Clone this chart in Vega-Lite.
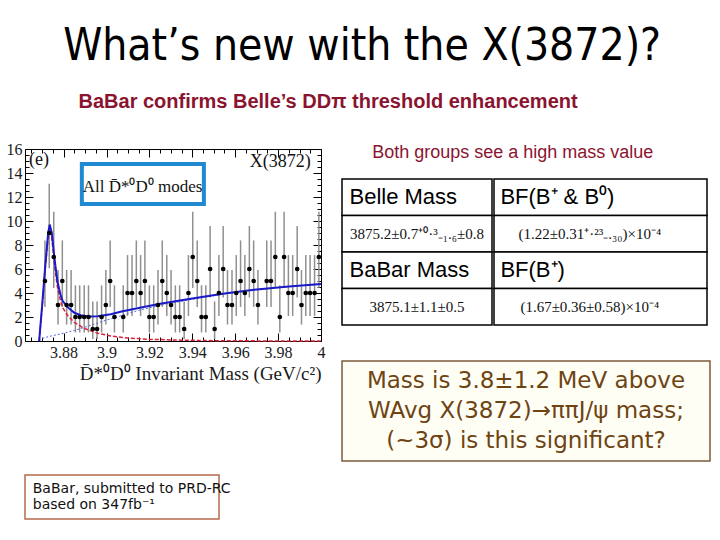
{
"$schema": "https://vega.github.io/schema/vega-lite/v6.json",
"background": "white",
"padding": {"left": 5, "top": 24, "right": 0, "bottom": 0},
"config": {"view": {"stroke": null}, "axis": {"grid": false}},
"title": {"text": "What’s new with the X(3872)?", "font": "DejaVu Sans Condensed", "fontSize": 44, "fontWeight": "normal", "color": "#000", "anchor": "middle", "dx": 4, "offset": 23},
"datasets": {
"bins": [
{"mass":3.8713,"n":5},{"mass":3.8733,"n":9},{"mass":3.8754,"n":7},{"mass":3.8774,"n":3},{"mass":3.8794,"n":5},
{"mass":3.8814,"n":3},{"mass":3.8835,"n":3},{"mass":3.8855,"n":2},{"mass":3.8875,"n":2},{"mass":3.8896,"n":2},
{"mass":3.8916,"n":2},{"mass":3.8936,"n":1},{"mass":3.8956,"n":1},{"mass":3.8977,"n":2},{"mass":3.8997,"n":3},
{"mass":3.9017,"n":5},{"mass":3.9037,"n":2},{"mass":3.9078,"n":2},{"mass":3.9098,"n":4},{"mass":3.9119,"n":4},
{"mass":3.9139,"n":5},{"mass":3.9159,"n":4},{"mass":3.9179,"n":5},{"mass":3.9200,"n":2},{"mass":3.9220,"n":2},
{"mass":3.9240,"n":3},{"mass":3.9260,"n":5},{"mass":3.9281,"n":4},{"mass":3.9301,"n":3},{"mass":3.9321,"n":2},
{"mass":3.9341,"n":2},{"mass":3.9362,"n":1},{"mass":3.9382,"n":4},{"mass":3.9402,"n":7},{"mass":3.9423,"n":5},
{"mass":3.9443,"n":2},{"mass":3.9463,"n":2},{"mass":3.9483,"n":6},{"mass":3.9504,"n":1},{"mass":3.9524,"n":4},
{"mass":3.9544,"n":6},{"mass":3.9564,"n":3},{"mass":3.9585,"n":3},{"mass":3.9605,"n":4},{"mass":3.9625,"n":5},
{"mass":3.9645,"n":4},{"mass":3.9666,"n":6},{"mass":3.9686,"n":5},{"mass":3.9706,"n":3},{"mass":3.9747,"n":5},
{"mass":3.9767,"n":5},{"mass":3.9787,"n":7},{"mass":3.9808,"n":2},{"mass":3.9828,"n":7},{"mass":3.9848,"n":4},
{"mass":3.9868,"n":4},{"mass":3.9889,"n":6},{"mass":3.9909,"n":3},{"mass":3.9929,"n":4},{"mass":3.9949,"n":4},
{"mass":3.9970,"n":4},{"mass":3.9990,"n":7}
],
"poisson": [
{"n":1,"lo":0.17,"hi":3.30},{"n":2,"lo":0.71,"hi":4.64},{"n":3,"lo":1.37,"hi":5.92},{"n":4,"lo":2.09,"hi":7.16},
{"n":5,"lo":2.84,"hi":8.38},{"n":6,"lo":3.62,"hi":9.58},{"n":7,"lo":4.42,"hi":10.77},{"n":9,"lo":6.06,"hi":13.11}
],
"curves": [
{"c":"total","m":3.8686,"y":0},{"c":"total","m":3.8700,"y":3.0},{"c":"total","m":3.8715,"y":6.4},{"c":"total","m":3.8728,"y":9.0},
{"c":"total","m":3.8735,"y":9.7},{"c":"total","m":3.8745,"y":9.0},{"c":"total","m":3.8756,"y":7.1},{"c":"total","m":3.8765,"y":5.8},
{"c":"total","m":3.8772,"y":4.9},{"c":"total","m":3.8785,"y":3.9},{"c":"total","m":3.8795,"y":3.35},{"c":"total","m":3.882,"y":2.8},
{"c":"total","m":3.885,"y":2.35},{"c":"total","m":3.888,"y":2.15},{"c":"total","m":3.8915,"y":2.05},{"c":"total","m":3.896,"y":2.07},
{"c":"total","m":3.902,"y":2.23},{"c":"total","m":3.907,"y":2.45},{"c":"total","m":3.915,"y":2.75},{"c":"total","m":3.925,"y":3.1},
{"c":"total","m":3.94,"y":3.55},{"c":"total","m":3.955,"y":3.95},{"c":"total","m":3.97,"y":4.3},{"c":"total","m":3.985,"y":4.55},
{"c":"total","m":4.0,"y":4.75},
{"c":"signal","m":3.8686,"y":0},{"c":"signal","m":3.8700,"y":2.8},{"c":"signal","m":3.8715,"y":6.1},{"c":"signal","m":3.8728,"y":8.7},
{"c":"signal","m":3.8735,"y":9.3},{"c":"signal","m":3.8745,"y":8.6},{"c":"signal","m":3.8756,"y":6.6},{"c":"signal","m":3.8765,"y":5.3},
{"c":"signal","m":3.8772,"y":4.4},{"c":"signal","m":3.8785,"y":3.4},{"c":"signal","m":3.8795,"y":2.8},{"c":"signal","m":3.882,"y":2.1},
{"c":"signal","m":3.885,"y":1.55},{"c":"signal","m":3.8896,"y":1.05},{"c":"signal","m":3.8959,"y":0.65},{"c":"signal","m":3.902,"y":0.42},
{"c":"signal","m":3.91,"y":0.25},{"c":"signal","m":3.92,"y":0.14},{"c":"signal","m":3.935,"y":0.07},{"c":"signal","m":3.95,"y":0.03},
{"c":"signal","m":3.97,"y":0.01},{"c":"signal","m":4.0,"y":0.0},
{"c":"background","m":3.8686,"y":0},{"c":"background","m":3.870,"y":0.2},{"c":"background","m":3.872,"y":0.32},{"c":"background","m":3.875,"y":0.45},
{"c":"background","m":3.88,"y":0.65},{"c":"background","m":3.885,"y":0.88},{"c":"background","m":3.89,"y":1.15},{"c":"background","m":3.895,"y":1.45},
{"c":"background","m":3.9,"y":1.75},{"c":"background","m":3.905,"y":2.0},{"c":"background","m":3.91,"y":2.3},{"c":"background","m":3.915,"y":2.55},
{"c":"background","m":3.925,"y":2.98},{"c":"background","m":3.94,"y":3.48},{"c":"background","m":3.955,"y":3.92},{"c":"background","m":3.97,"y":4.28},
{"c":"background","m":3.985,"y":4.54},{"c":"background","m":4.0,"y":4.74}
],
"box": [{"x0":3.8885,"x1":3.9454,"y0":11.41,"y1":14.75,"xm":3.9168,"ym":12.85,"label":"All D̄*⁰D⁰ modes"}],
"plotText": [{"m":3.8685,"y":15.1,"label":"(e)"},{"m":3.981,"y":14.95,"label":"X(3872)"}],
"header": [{"text":"Both groups see a high mass value"}],
"table": [
{"row":1,"col":1,"kind":"head","text":"Belle Mass"},
{"row":1,"col":2,"kind":"head","text":"BF(B⁺ & B⁰)"},
{"row":2,"col":1,"kind":"val","text":"3875.2±0.7⁺⁰·³₋₁.₆±0.8"},
{"row":2,"col":2,"kind":"val","text":"(1.22±0.31⁺·²³₋.₃₀)×10⁻⁴"},
{"row":3,"col":1,"kind":"head","text":"BaBar Mass"},
{"row":3,"col":2,"kind":"head","text":"BF(B⁺)"},
{"row":4,"col":1,"kind":"val","text":"3875.1±1.1±0.5"},
{"row":4,"col":2,"kind":"val","text":"(1.67±0.36±0.58)×10⁻⁴"}
],
"comment": [
{"line":1,"text":"Mass is 3.8±1.2 MeV above"},
{"line":2,"text":"WAvg X(3872)→ππJ/ψ mass;"},
{"line":3,"text":"(~3σ) is this significant?"}
],
"note": [
{"line":1,"text":"BaBar, submitted to PRD-RC"},
{"line":2,"text":"based on 347fb⁻¹"}
]
},
"vconcat": [{
"title": {"text": "BaBar confirms Belle’s DDπ threshold enhancement", "font": "Liberation Sans", "fontSize": 20, "fontWeight": "bold", "color": "#8a1430", "anchor": "start", "dx": 73, "offset": 29},
"spacing": 15,
"hconcat": [
{"spacing": 134, "bounds": "flush", "vconcat": [
{
"width": 296, "height": 192,
"view": {"stroke": "#000", "strokeWidth": 1},
"resolve": {"axis": {"x": "independent", "y": "independent"}},
"layer": [
{
"data": {"name": "bins"},
"transform": [{"lookup": "n", "from": {"data": {"name": "poisson"}, "key": "n", "fields": ["lo", "hi"]}}],
"mark": {"type": "rule", "color": "#909090", "strokeWidth": 1.5},
"encoding": {
"x": {"field": "mass", "type": "quantitative", "scale": {"domain": [3.862, 4.0], "nice": false, "zero": false},
 "axis": {"orient": "bottom", "values": [3.88, 3.9, 3.92, 3.94, 3.96, 3.98, 4], "format": "~g", "tickSize": -8, "tickColor": "#000", "domain": false, "labelFont": "Liberation Serif", "labelFontSize": 16, "labelColor": "#1a1a1a", "labelPadding": 11, "labelFlush": false, "title": "D̄*⁰D⁰ Invariant Mass (GeV/c²)", "titleFont": "Liberation Serif", "titleFontSize": 19, "titleFontWeight": "normal", "titleColor": "#1a1a1a", "titleAnchor": "end", "titlePadding": 4}},
"y": {"field": "lo", "type": "quantitative", "scale": {"domain": [0, 16], "nice": false},
 "axis": {"orient": "left", "values": [0, 2, 4, 6, 8, 10, 12, 14, 16], "tickSize": -8, "tickColor": "#000", "domain": false, "labelFont": "Liberation Serif", "labelFontSize": 16, "labelColor": "#1a1a1a", "labelPadding": 11, "title": null}},
"y2": {"field": "hi"}
}
},
{
"data": {"name": "curves"},
"transform": [{"filter": "datum.c == 'background'"}],
"mark": {"type": "line", "color": "#5566e0", "strokeWidth": 1, "strokeDash": [2, 2]},
"encoding": {"x": {"field": "m", "type": "quantitative", "axis": null}, "y": {"field": "y", "type": "quantitative", "axis": null}}
},
{
"data": {"name": "curves"},
"transform": [{"filter": "datum.c == 'signal'"}],
"mark": {"type": "line", "color": "#e0203a", "strokeWidth": 1.5, "strokeDash": [4, 2]},
"encoding": {"x": {"field": "m", "type": "quantitative", "axis": null}, "y": {"field": "y", "type": "quantitative", "axis": null}}
},
{
"data": {"name": "curves"},
"transform": [{"filter": "datum.c == 'total'"}],
"mark": {"type": "line", "color": "#1a1ac8", "strokeWidth": 2},
"encoding": {
"x": {"field": "m", "type": "quantitative", "axis": {"orient": "top", "values": [3.88, 3.9, 3.92, 3.94, 3.96, 3.98, 4], "tickSize": -8, "tickColor": "#000", "domain": false, "labels": false, "title": null}},
"y": {"field": "y", "type": "quantitative", "axis": {"orient": "right", "values": [0, 2, 4, 6, 8, 10, 12, 14, 16], "tickSize": -8, "tickColor": "#000", "domain": false, "labels": false, "title": null}}
}
},
{
"data": {"name": "bins"},
"mark": {"type": "circle", "color": "#000", "opacity": 1, "size": 22},
"encoding": {
"x": {"field": "mass", "type": "quantitative", "axis": {"orient": "bottom", "values": [3.865,3.87,3.875,3.88,3.885,3.89,3.895,3.9,3.905,3.91,3.915,3.92,3.925,3.93,3.935,3.94,3.945,3.95,3.955,3.96,3.965,3.97,3.975,3.98,3.985,3.99,3.995,4], "tickSize": -4, "tickColor": "#000", "domain": false, "labels": false, "title": null}},
"y": {"field": "n", "type": "quantitative", "axis": {"orient": "left", "values": [0.5,1,1.5,2,2.5,3,3.5,4,4.5,5,5.5,6,6.5,7,7.5,8,8.5,9,9.5,10,10.5,11,11.5,12,12.5,13,13.5,14,14.5,15,15.5], "tickSize": -4, "tickColor": "#000", "domain": false, "labels": false, "title": null}}
}
},
{
"data": {"name": "box"},
"mark": {"type": "rect", "fill": "#fff", "stroke": "#1f8ad1", "strokeWidth": 4},
"encoding": {
"x": {"field": "x0", "type": "quantitative", "axis": {"orient": "top", "values": [3.865,3.87,3.875,3.885,3.89,3.895,3.905,3.91,3.915,3.925,3.93,3.935,3.945,3.95,3.955,3.965,3.97,3.975,3.985,3.99,3.995], "tickSize": -4, "tickColor": "#000", "domain": false, "labels": false, "title": null}},
"x2": {"field": "x1"},
"y": {"field": "y0", "type": "quantitative", "axis": {"orient": "right", "values": [0.5,1,1.5,2.5,3,3.5,4.5,5,5.5,6.5,7,7.5,8.5,9,9.5,10.5,11,11.5,12.5,13,13.5,14.5,15,15.5], "tickSize": -4, "tickColor": "#000", "domain": false, "labels": false, "title": null}},
"y2": {"field": "y1"}
}
},
{
"data": {"name": "box"},
"mark": {"type": "text", "font": "Liberation Serif", "fontSize": 17, "color": "#111", "baseline": "middle"},
"encoding": {"x": {"field": "xm", "type": "quantitative", "axis": null}, "y": {"field": "ym", "type": "quantitative", "axis": null}, "text": {"field": "label"}}
},
{
"data": {"name": "plotText"},
"mark": {"type": "text", "font": "Liberation Serif", "fontSize": 18, "color": "#111", "baseline": "middle"},
"encoding": {"x": {"field": "m", "type": "quantitative", "axis": null}, "y": {"field": "y", "type": "quantitative", "axis": null}, "text": {"field": "label"}}
}
]
},
{
"width": 194, "height": 44,
"view": {"stroke": "#b76b4c", "strokeWidth": 1.5, "fill": "#fff"},
"data": {"name": "note"},
"mark": {"type": "text", "align": "left", "baseline": "middle", "font": "DejaVu Sans", "fontSize": 14, "color": "#111"},
"encoding": {
"x": {"datum": 0.04, "type": "quantitative", "scale": {"domain": [0, 1]}, "axis": null},
"y": {"field": "line", "type": "ordinal", "axis": null, "scale": {"type": "point", "padding": 0.875}},
"text": {"field": "text"}
}
}
]},
{"spacing": 34, "vconcat": [
{"spacing": 16, "vconcat": [
{
"width": 363, "height": 8,
"data": {"name": "header"},
"mark": {"type": "text", "align": "left", "baseline": "middle", "font": "Liberation Sans", "fontSize": 18, "color": "#8a1430"},
"encoding": {
"x": {"datum": 0.083, "type": "quantitative", "scale": {"domain": [0, 1]}, "axis": null},
"y": {"datum": 0.5, "type": "quantitative", "scale": {"domain": [0, 1]}, "axis": null},
"text": {"field": "text"}
}
},
{
"spacing": 0,
"hconcat": [
{
"width": 150, "height": 146,
"data": {"name": "table"},
"transform": [{"filter": "datum.col == 1"}],
"encoding": {"y": {"field": "row", "type": "ordinal", "axis": null, "scale": {"paddingInner": 0, "paddingOuter": 0}}},
"layer": [
{"mark": {"type": "rect", "fill": "#fff", "stroke": "#000", "strokeWidth": 1.5},
 "encoding": {"x": {"datum": 0, "type": "quantitative", "scale": {"domain": [0, 1]}, "axis": null}, "x2": {"datum": 1}}},
{"transform": [{"filter": "datum.kind == 'head'"}],
 "mark": {"type": "text", "align": "left", "baseline": "middle", "font": "Liberation Sans", "fontSize": 22, "color": "#000"},
 "encoding": {"x": {"datum": 0.05, "type": "quantitative", "axis": null}, "text": {"field": "text"}}},
{"transform": [{"filter": "datum.kind == 'val'"}],
 "mark": {"type": "text", "align": "center", "baseline": "middle", "font": "Liberation Serif", "fontSize": 15, "color": "#111"},
 "encoding": {"x": {"datum": 0.5, "type": "quantitative", "axis": null}, "text": {"field": "text"}}}
]
},
{
"width": 213, "height": 146,
"data": {"name": "table"},
"transform": [{"filter": "datum.col == 2"}],
"encoding": {"y": {"field": "row", "type": "ordinal", "axis": null, "scale": {"paddingInner": 0, "paddingOuter": 0}}},
"layer": [
{"mark": {"type": "rect", "fill": "#fff", "stroke": "#000", "strokeWidth": 1.5},
 "encoding": {"x": {"datum": 0, "type": "quantitative", "scale": {"domain": [0, 1]}, "axis": null}, "x2": {"datum": 1}}},
{"transform": [{"filter": "datum.kind == 'head'"}],
 "mark": {"type": "text", "align": "left", "baseline": "middle", "font": "Liberation Sans", "fontSize": 22, "color": "#000"},
 "encoding": {"x": {"datum": 0.03, "type": "quantitative", "axis": null}, "text": {"field": "text"}}},
{"transform": [{"filter": "datum.kind == 'val'"}],
 "mark": {"type": "text", "align": "center", "baseline": "middle", "font": "Liberation Serif", "fontSize": 15, "color": "#111"},
 "encoding": {"x": {"datum": 0.45, "type": "quantitative", "axis": null}, "text": {"field": "text"}}}
]
}
]
}
]},
{
"width": 368, "height": 100,
"view": {"stroke": "#7d5a3c", "strokeWidth": 1.5, "fill": "#fffef5"},
"data": {"name": "comment"},
"mark": {"type": "text", "align": "center", "baseline": "middle", "font": "DejaVu Sans", "fontSize": 23, "color": "#6e4413"},
"encoding": {
"x": {"datum": 0.5, "type": "quantitative", "scale": {"domain": [0, 1]}, "axis": null},
"y": {"field": "line", "type": "ordinal", "axis": null, "scale": {"type": "point", "padding": 0.667}},
"text": {"field": "text"}
}
}
]}
]
}]
}
